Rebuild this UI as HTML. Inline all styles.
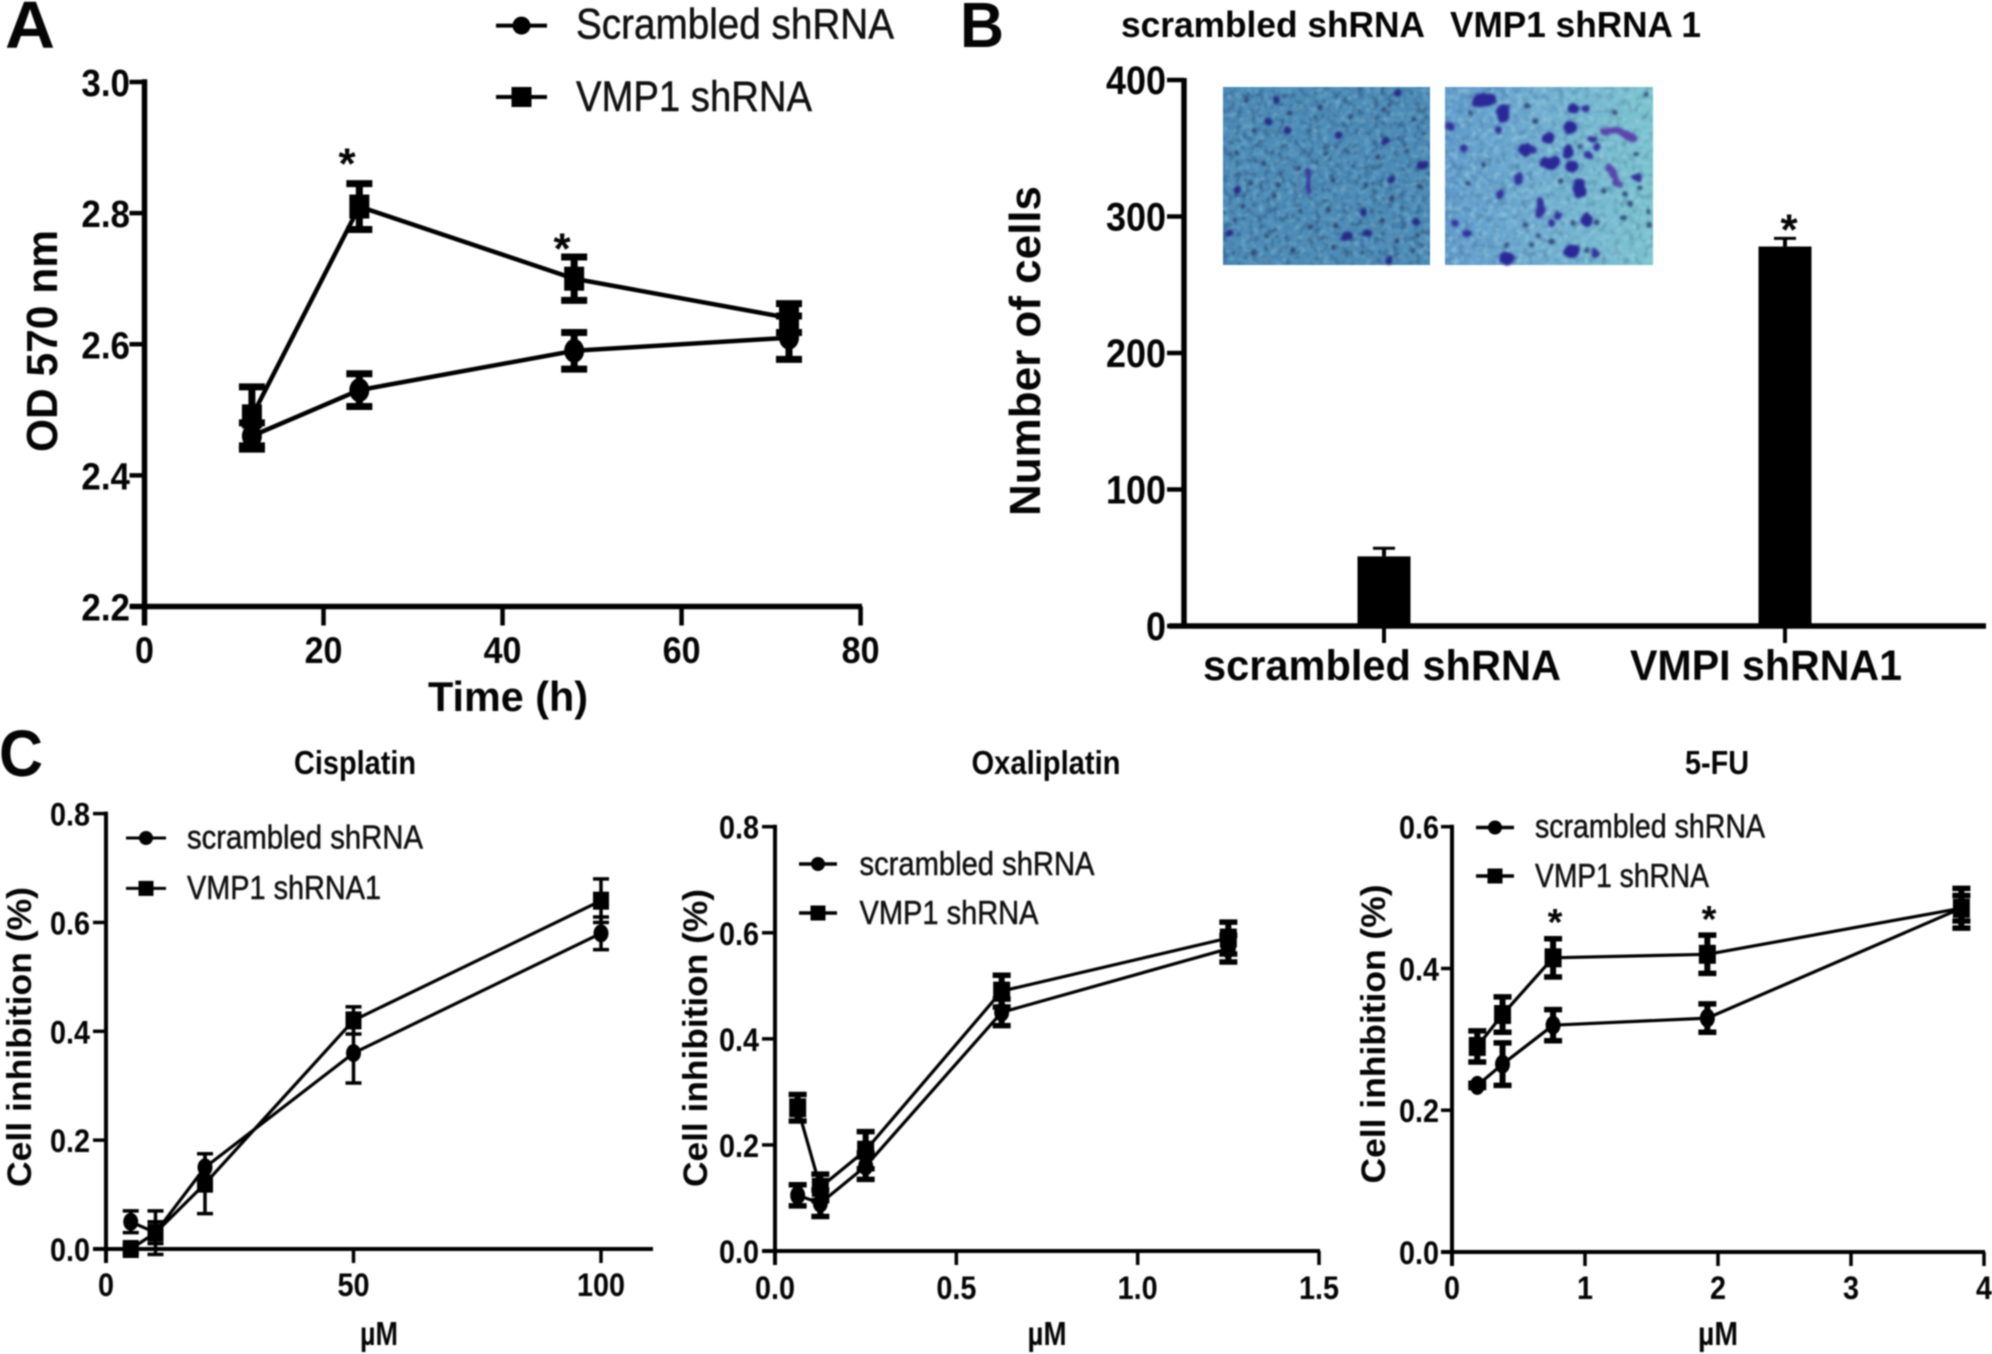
<!DOCTYPE html>
<html lang="en">
<head>
<meta charset="utf-8">
<title>VMP1 shRNA figure</title>
<style>
html,body{margin:0;padding:0;background:#fff;}
#figure{display:block;width:1992px;height:1354px;filter:blur(.75px);}
text{font-family:"Liberation Sans",Arial,sans-serif;fill:#050505;}
</style>
</head>
<body>
<svg id="figure" xmlns="http://www.w3.org/2000/svg" width="1992" height="1354" viewBox="0 0 1992 1354">
  <defs>
    <filter id="speckle-dark" x="0" y="0" width="100%" height="100%" color-interpolation-filters="sRGB">
      <feTurbulence type="fractalNoise" baseFrequency="0.14" numOctaves="3" seed="4"/>
      <feColorMatrix values="0 0 0 0 .16  0 0 0 0 .3  0 0 0 0 .46  2.4 0 0 0 -1.1"/>
      <feGaussianBlur stdDeviation=".9"/>
    </filter>
    <filter id="speckle-light" x="0" y="0" width="100%" height="100%" color-interpolation-filters="sRGB">
      <feTurbulence type="fractalNoise" baseFrequency="0.17" numOctaves="3" seed="11"/>
      <feColorMatrix values="0 0 0 0 .62  0 0 0 0 .82  0 0 0 0 .88  0 2.4 0 0 -1.12"/>
      <feGaussianBlur stdDeviation=".9"/>
    </filter>
    <filter id="soft-blob" x="-10%" y="-10%" width="120%" height="120%" color-interpolation-filters="sRGB">
      <feTurbulence type="fractalNoise" baseFrequency="0.035" numOctaves="2" seed="7" result="n"/>
      <feDisplacementMap in="SourceGraphic" in2="n" scale="16" xChannelSelector="R" yChannelSelector="G"/>
      <feGaussianBlur stdDeviation="3.6"/>
    </filter>
    <linearGradient id="right-photo-fill" x1="0" y1="0" x2="1" y2="0">
      <stop offset="0" stop-color="#5f9bcb"/>
      <stop offset=".5" stop-color="#72b0d2"/>
      <stop offset="1" stop-color="#7cc6d0"/>
    </linearGradient>
  </defs>

  <g>
    <rect x="1223" y="87" width="207" height="178" fill="#4c8cb8"/>
    <rect x="1223" y="87" width="207" height="178" filter="url(#speckle-dark)" opacity=".8"/>
    <rect x="1223" y="87" width="207" height="178" filter="url(#speckle-light)" opacity=".45"/>
    <g transform="translate(1210 70) scale(.3333)" fill="none" stroke-linecap="round" filter="url(#soft-blob)">
      <path stroke="#2d3f68" stroke-width="14" d="M110 90h.1M130 180h.1M240 130h.1M330 110h.1M420 140h.1M520 120h.1M610 150h.1M80 250h.1M160 280h.1M265 295h.1M350 250h.1M430 290h.1M505 260h.1M590 240h.1M120 340h.1M205 345h.1M370 330h.1M470 345h.1M545 385h.1M630 350h.1M100 410h.1M190 380h.1M270 420h.1M355 420h.1M515 450h.1M75 450h.1M170 500h.1M300 470h.1M380 465h.1M560 510h.1M620 500h.1M130 545h.1M250 540h.1M370 535h.1M460 550h.1M610 545h.1"/>
      <path stroke="#262a84" stroke-width="24" d="M200 90h.1M565 68h.1M175 155h.1M232 180h.1M385 195h.1M525 215h.1M630 285h14M545 328h.1M80 360h.1M462 428h.1M470 490h6M58 490h.1M405 500h12M535 572h.1M618 455h.1"/>
      <path stroke="#3b36a0" stroke-width="13" d="M295 300V365"/>
    </g>
  </g>
  <g>
    <rect x="1445" y="87" width="208" height="178" fill="url(#right-photo-fill)"/>
    <rect x="1445" y="87" width="208" height="178" filter="url(#speckle-dark)" opacity=".35"/>
    <rect x="1445" y="87" width="208" height="178" filter="url(#speckle-light)" opacity=".7"/>
    <g transform="translate(1210 70) scale(.3333)" fill="none" stroke-linecap="round" filter="url(#soft-blob)">
      <path stroke="#2f4a78" stroke-width="15" d="M780 130h.1M950 110h.1M1215 125h.1M1310 75h.1M975 155h.1M1110 230h.1M820 285h.1M1050 335h.1M775 340h.1M1180 365h.1M1245 375h.1M1290 355h.1M945 465h.1M1090 460h.1M1160 460h.1M1240 445h.1M985 500h.1M1025 515h.1M1130 540h.1M1315 425h.1M1315 465h.1M965 525h.1M890 525h.1M1280 250h.1M1260 400h.1"/>
      <path stroke="#2a2896" stroke-width="38" d="M805 90h35M880 118v18M1090 115h.1M1080 170h.1M1015 205h.1M945 240h.1M1010 278h24M1085 290h.1M1075 245h.1M1110 345v18M1130 450h.1M1080 545h10M888 565h6"/>
      <path stroke="#33309c" stroke-width="24" d="M970 240h.1M760 235h.1M1135 255h.1M1145 210h.1M1220 335h.1M1275 322h8M990 395v35M1045 435h.1M1025 460h.1M1155 550h.1M735 460h.1M720 170h.1M870 375h.1M925 320v14M865 180h.1M770 490h.1M1160 232h.1M1125 115h.1"/>
      <path stroke="#5a45ac" stroke-width="20" d="M1180 185 1230 182 1270 205M1195 290 1230 345"/>
    </g>
  </g>

  <g id="layer-a"></g>
  <g id="layer-b"></g>
  <g id="layer-c1"></g>
  <g id="layer-c2"></g>
  <g id="layer-c3"></g>
</svg>

<script>
// Panel A
const aTimes = [12, 24, 48, 72];
const aScrambled = [2.46, 2.53, 2.59, 2.61];
const aScrambledErr = [0.02, 0.025, 0.028, 0.033];
const aVmp = [2.49, 2.81, 2.70, 2.64];
const aVmpErr = [0.045, 0.035, 0.033, 0.022];
const aXTickLabels = ['0', '20', '40', '60', '80'];
const aYTickLabels = ['2.2', '2.4', '2.6', '2.8', '3.0'];

// Panel B
const bCategories = ['scrambled shRNA', 'VMPI shRNA1'];
const bValues = [51, 278];
const bErrors = [6, 6];
const bYTickLabels = ['0', '100', '200', '300', '400'];

// Panel C - Cisplatin
const c1Doses = [5, 10, 20, 50, 100];
const c1Scrambled = [0.05, 0.03, 0.15, 0.36, 0.58];
const c1ScrambledErr = [0.02, 0.04, 0.025, 0.055, 0.03];
const c1Vmp = [0.0, 0.03, 0.12, 0.42, 0.64];
const c1VmpErr = [0.008, 0.02, 0.055, 0.025, 0.04];
const c1XTickLabels = ['0', '50', '100'];
const c1YTickLabels = ['0.0', '0.2', '0.4', '0.6', '0.8'];

// Panel C - Oxaliplatin
const c2Doses = [0.0625, 0.125, 0.25, 0.625, 1.25];
const c2Scrambled = [0.105, 0.09, 0.16, 0.45, 0.57];
const c2ScrambledErr = [0.02, 0.025, 0.025, 0.025, 0.025];
const c2Vmp = [0.27, 0.12, 0.19, 0.49, 0.59];
const c2VmpErr = [0.025, 0.025, 0.035, 0.03, 0.03];
const c2XTickLabels = ['0.0', '0.5', '1.0', '1.5'];
const c2YTickLabels = ['0.0', '0.2', '0.4', '0.6', '0.8'];

// Panel C - 5-FU
const c3Doses = [0.19, 0.38, 0.76, 1.92, 3.83];
const c3Scrambled = [0.235, 0.265, 0.32, 0.33, 0.485];
const c3ScrambledErr = [0.003, 0.03, 0.022, 0.02, 0.028];
const c3Vmp = [0.29, 0.335, 0.415, 0.42, 0.485];
const c3VmpErr = [0.022, 0.025, 0.027, 0.027, 0.018];
const c3XTickLabels = ['0', '1', '2', '3', '4'];
const c3YTickLabels = ['0.0', '0.2', '0.4', '0.6'];

const SVGNS = 'http://www.w3.org/2000/svg';

function scale(d0, d1, r0, r1) {
  return v => r0 + (v - d0) * (r1 - r0) / (d1 - d0);
}

function shape(parent, tag, attrs, name) {
  const el = document.createElementNS(SVGNS, tag);
  for (const k in attrs) el.setAttribute(k, attrs[k]);
  
  
  parent.appendChild(el);
  return el;
}

function seg(parent, x1, y1, x2, y2, w, name) {
  return shape(parent, 'line', {x1, y1, x2, y2, stroke: '#000', 'stroke-width': w}, name);
}

function label(parent, str, x, y, size, opts, name) {
  const o = opts || {};
  const el = document.createElementNS(SVGNS, 'text');
  el.setAttribute('x', x);
  el.setAttribute('y', y);
  el.setAttribute('font-size', size);
  el.setAttribute('font-weight', o.regular ? 'normal' : 'bold');
  el.setAttribute('text-anchor', o.anchor || 'start');
  if (o.len) {
    el.setAttribute('textLength', o.len);
    el.setAttribute('lengthAdjust', 'spacingAndGlyphs');
  }
  if (o.rotate) el.setAttribute('transform', 'rotate(-90 ' + x + ' ' + y + ')');
  if (o.regular) {
    el.style.fill = '#111';
    el.style.stroke = '#111';
    el.style.strokeWidth = '.5px';
  }
  el.textContent = str;
  
  
  parent.appendChild(el);
  return el;
}

// Width a numeric tick label should occupy: condensed to match the tall, narrow reference digits.
function tickLen(str, size, condense) {
  let em = 0;
  for (const ch of str) em += ch === '.' ? 0.278 : 0.556;
  return em * size * condense;
}

function marker(parent, kind, x, y, w, h, name) {
  if (kind === 'circle') {
    return shape(parent, 'ellipse', {cx: x, cy: y, rx: w / 2, ry: h / 2, fill: '#000'}, name);
  }
  return shape(parent, 'rect', {x: x - w / 2, y: y - h / 2, width: w, height: h, fill: '#000'}, name);
}

function drawAxes(g, sx, sy, xLabels, yLabels, st) {
  const xVals = xLabels.map(Number);
  const yVals = yLabels.map(Number);
  const x0 = sx(xVals[0]);
  const y0 = sy(yVals[0]);
  const yTop = sy(yVals[yVals.length - 1]);
  seg(g, x0, yTop - st.axisW / 2, x0, y0 + st.tickLenX, st.axisW, 'y-axis');
  seg(g, st.xStart, y0, st.xEnd, y0, st.axisW, 'x-axis');
  xVals.forEach((v, i) => {
    seg(g, sx(v), y0, sx(v), y0 + st.tickLenX, st.tickW, 'x-tick');
    label(g, xLabels[i], sx(v), st.xLabelY, st.xLabelSize, {anchor: 'middle', len: tickLen(xLabels[i], st.xLabelSize, st.condense)}, 'x-tick-label');
  });
  yVals.forEach((v, i) => {
    seg(g, x0 - st.tickLenY, sy(v), x0, sy(v), st.tickW, 'y-tick');
    label(g, yLabels[i], st.yLabelX, sy(v) + st.yLabelDy, st.yLabelSize, {anchor: 'end', len: tickLen(yLabels[i], st.yLabelSize, st.condense)}, 'y-tick-label');
  });
}

function drawSeries(g, xs, ys, errs, sx, sy, kind, st, name) {
  const pts = xs.map((x, i) => sx(x).toFixed(1) + ',' + sy(ys[i]).toFixed(1)).join(' ');
  shape(g, 'polyline', {points: pts, fill: 'none', stroke: '#000', 'stroke-width': st.lineW, 'stroke-linejoin': 'round'}, name + '-line');
  xs.forEach((x, i) => {
    const px = sx(x);
    const hi = sy(ys[i] + errs[i]);
    const lo = sy(ys[i] - errs[i]);
    seg(g, px, hi, px, lo, st.errW, name + '-error-bar');
    seg(g, px - st.capW / 2, hi, px + st.capW / 2, hi, st.capH, name + '-error-cap');
    seg(g, px - st.capW / 2, lo, px + st.capW / 2, lo, st.capH, name + '-error-cap');
    marker(g, kind, px, sy(ys[i]), st.markerW, st.markerH, name + '-point');
  });
}

function drawLegend(g, kind, x1, x2, y, textX, baseY, len, size, str, mw, mh, lineW, name) {
  seg(g, x1, y, x2, y, lineW, name + '-line');
  marker(g, kind, (x1 + x2) / 2, y, mw, mh, name + '-marker');
  label(g, str, textX, baseY, size, {regular: true, len: len}, name + '-label');
}

function star(g, x, y, size, name) {
  label(g, '*', x, y + size * 0.58, size, {anchor: 'middle'}, name);
}

/* ---------- Panel A ---------- */
(function () {
  const g = document.getElementById('layer-a');
  const sx = scale(0, 80, 144.5, 860.6);
  const sy = scale(2.2, 3.0, 606.5, 82);
  label(g, 'A', 5, 48, 67, {len: 50}, 'panel-letter-a');
  drawAxes(g, sx, sy, aXTickLabels, aYTickLabels, {
    axisW: 5.5, tickW: 4.5, tickLenX: 19, tickLenY: 15, xStart: 130, xEnd: 862, condense: 0.92,
    xLabelY: 663, xLabelSize: 37, yLabelX: 130, yLabelDy: 14, yLabelSize: 38
  });
  const st = {lineW: 4.5, errW: 7, capW: 26, capH: 7, markerW: 20, markerH: 24};
  drawSeries(g, aTimes, aScrambled, aScrambledErr, sx, sy, 'circle', st, 'scrambled-shrna');
  drawSeries(g, aTimes, aVmp, aVmpErr, sx, sy, 'square', st, 'vmp1-shrna');
  star(g, 347, 153, 44, 'significance-star');
  star(g, 562, 238, 44, 'significance-star');
  label(g, 'OD 570 nm', 57, 341, 44, {rotate: true, anchor: 'middle', len: 222}, 'y-axis-title');
  label(g, 'Time (h)', 508, 711, 42, {anchor: 'middle', len: 160}, 'x-axis-title');
  drawLegend(g, 'circle', 496, 547, 25.6, 576, 38.6, 318, 43, 'Scrambled shRNA', 18, 18, 4, 'legend-entry-scrambled');
  drawLegend(g, 'square', 496, 547, 97, 576, 111, 236, 43, 'VMP1 shRNA', 20, 20, 4, 'legend-entry-vmp1');
})();

/* ---------- Panel B ---------- */
(function () {
  const g = document.getElementById('layer-b');
  const sy = scale(0, 400, 626, 80);
  const yVals = bYTickLabels.map(Number);
  const axisX = 1184;
  const barCenter = i => 1384 + i * 401;
  label(g, 'B', 960, 47, 64, {len: 44}, 'panel-letter-b');
  label(g, 'scrambled shRNA', 1121, 37, 36, {len: 304}, 'photo-label-scrambled');
  label(g, 'VMP1 shRNA 1', 1450, 37, 36, {len: 251}, 'photo-label-vmp1');
  seg(g, axisX, sy(400) - 2, axisX, sy(0) + 2, 5.5, 'y-axis');
  seg(g, 1169, sy(0), 1986, sy(0), 5.5, 'x-axis');
  yVals.forEach((v, i) => {
    seg(g, axisX - 17, sy(v), axisX, sy(v), 4.5, 'y-tick');
    label(g, bYTickLabels[i], 1166, sy(v) + 14, 40, {anchor: 'end', len: tickLen(bYTickLabels[i], 40, 0.9)}, 'y-tick-label');
  });
  bCategories.forEach((cat, i) => {
    const cx = barCenter(i);
    seg(g, cx, sy(0), cx, 643, 4, 'x-tick');
    seg(g, cx, sy(bValues[i]), cx, sy(bValues[i] + bErrors[i]), 4, 'bar-error-bar');
    seg(g, cx - 11, sy(bValues[i] + bErrors[i]), cx + 11, sy(bValues[i] + bErrors[i]), 3, 'bar-error-cap');
    shape(g, 'rect', {x: cx - 26.5, y: sy(bValues[i]), width: 53, height: sy(0) - sy(bValues[i]), fill: '#000'}, 'bar-' + (i + 1));
  });
  label(g, bCategories[0], 1203, 680, 43, {len: 358}, 'x-category-label');
  label(g, bCategories[1], 1630, 680, 43, {len: 272}, 'x-category-label');
  star(g, 1789, 219, 44, 'significance-star');
  label(g, 'Number of cells', 1040, 351, 44, {rotate: true, anchor: 'middle', len: 330}, 'y-axis-title');
})();

/* ---------- Panel C ---------- */
(function () {
  const g = document.getElementById('layer-c1');
  const sx = scale(0, 100, 106, 601);
  const sy = scale(0, 0.8, 1249, 813.6);
  label(g, 'C', -1, 776, 66, {len: 44}, 'panel-letter-c');
  label(g, 'Cisplatin', 355, 774, 33, {anchor: 'middle', len: 122}, 'chart-title');
  drawAxes(g, sx, sy, c1XTickLabels, c1YTickLabels, {
    axisW: 4, tickW: 3.5, tickLenX: 14, tickLenY: 13, xStart: 93, xEnd: 653, condense: 0.9,
    xLabelY: 1296, xLabelSize: 32, yLabelX: 90, yLabelDy: 12, yLabelSize: 32
  });
  const st = {lineW: 3.2, errW: 3.5, capW: 16, capH: 3.5, markerW: 15, markerH: 18};
  drawSeries(g, c1Doses, c1Scrambled, c1ScrambledErr, sx, sy, 'circle', st, 'scrambled-shrna');
  st.markerW = 16;
  drawSeries(g, c1Doses, c1Vmp, c1VmpErr, sx, sy, 'square', st, 'vmp1-shrna');
  label(g, 'Cell inhibition (%)', 31, 1037, 34, {rotate: true, anchor: 'middle', len: 300}, 'y-axis-title');
  label(g, 'µM', 379, 1345, 33, {anchor: 'middle', len: 38}, 'x-axis-title');
  drawLegend(g, 'circle', 126, 166, 838, 187, 848.6, 236, 33, 'scrambled shRNA', 14, 14, 3, 'legend-entry-scrambled');
  drawLegend(g, 'square', 126, 166, 888.4, 187, 899, 194, 33, 'VMP1 shRNA1', 15, 15, 3, 'legend-entry-vmp1');
})();

(function () {
  const g = document.getElementById('layer-c2');
  const sx = scale(0, 1.5, 775, 1319);
  const sy = scale(0, 0.8, 1251, 826.7);
  label(g, 'Oxaliplatin', 1046, 774, 33, {anchor: 'middle', len: 149}, 'chart-title');
  drawAxes(g, sx, sy, c2XTickLabels, c2YTickLabels, {
    axisW: 4, tickW: 3.5, tickLenX: 14, tickLenY: 13, xStart: 762, xEnd: 1320, condense: 0.9,
    xLabelY: 1299, xLabelSize: 32, yLabelX: 759, yLabelDy: 12, yLabelSize: 32
  });
  const st = {lineW: 3.2, errW: 6, capW: 18, capH: 5.5, markerW: 15, markerH: 19};
  drawSeries(g, c2Doses, c2Scrambled, c2ScrambledErr, sx, sy, 'circle', st, 'scrambled-shrna');
  st.markerW = 17;
  drawSeries(g, c2Doses, c2Vmp, c2VmpErr, sx, sy, 'square', st, 'vmp1-shrna');
  label(g, 'Cell inhibition (%)', 707, 1038, 34, {rotate: true, anchor: 'middle', len: 298}, 'y-axis-title');
  label(g, 'µM', 1047, 1345, 33, {anchor: 'middle', len: 39}, 'x-axis-title');
  drawLegend(g, 'circle', 799, 837, 864, 859.5, 875, 235, 33, 'scrambled shRNA', 14, 14, 3.5, 'legend-entry-scrambled');
  drawLegend(g, 'square', 799, 837, 913, 859.5, 924, 179, 33, 'VMP1 shRNA', 15, 15, 3.5, 'legend-entry-vmp1');
})();

(function () {
  const g = document.getElementById('layer-c3');
  const sx = scale(0, 4, 1452, 1984);
  const sy = scale(0, 0.6, 1252, 826.7);
  label(g, '5-FU', 1717, 774, 33, {anchor: 'middle', len: 64}, 'chart-title');
  drawAxes(g, sx, sy, c3XTickLabels, c3YTickLabels, {
    axisW: 4, tickW: 3.5, tickLenX: 14, tickLenY: 11, xStart: 1441, xEnd: 1985, condense: 0.9,
    xLabelY: 1299, xLabelSize: 32, yLabelX: 1439, yLabelDy: 12, yLabelSize: 32
  });
  const st = {lineW: 3.2, errW: 6, capW: 18, capH: 5.5, markerW: 15, markerH: 19};
  drawSeries(g, c3Doses, c3Scrambled, c3ScrambledErr, sx, sy, 'circle', st, 'scrambled-shrna');
  st.markerW = 17;
  drawSeries(g, c3Doses, c3Vmp, c3VmpErr, sx, sy, 'square', st, 'vmp1-shrna');
  star(g, 1555, 913, 38, 'significance-star');
  star(g, 1709, 910, 38, 'significance-star');
  label(g, 'Cell inhibition (%)', 1385, 1034, 34, {rotate: true, anchor: 'middle', len: 299}, 'y-axis-title');
  label(g, 'µM', 1718, 1345, 33, {anchor: 'middle', len: 40}, 'x-axis-title');
  drawLegend(g, 'circle', 1476, 1514, 827.5, 1535, 837.4, 230, 33, 'scrambled shRNA', 14, 14, 3.5, 'legend-entry-scrambled');
  drawLegend(g, 'square', 1476, 1514, 876, 1535, 887, 174, 33, 'VMP1 shRNA', 15, 15, 3.5, 'legend-entry-vmp1');
})();
</script>
</body>
</html>
